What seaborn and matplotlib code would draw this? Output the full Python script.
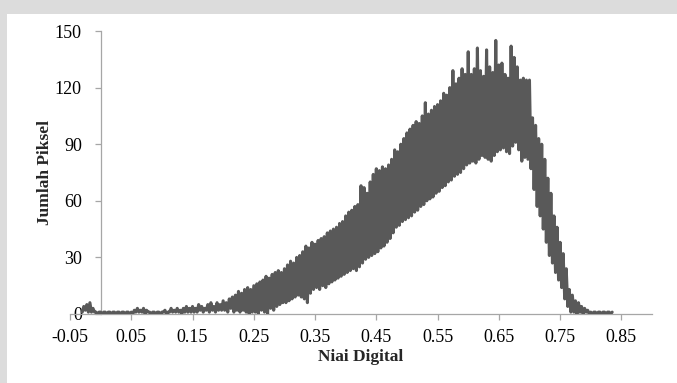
import numpy as np
import pandas as pd
import matplotlib
matplotlib.use("Agg")
import matplotlib.pyplot as plt
from matplotlib.patches import Rectangle
import seaborn as sns

# Histogram of pixel counts per digital value (step 0.0025, starting at -0.03)
x_start = -0.03
x_step = 0.0025
jumlah_piksel = [
    1, 4, 2, 5, 1, 6, 1, 3, 1, 1, 0, 1,
    1, 0, 1, 1, 0, 1, 1, 0, 1, 1, 0, 1, 1, 0, 1, 1, 0, 1, 1, 0,
    1, 0, 2, 1, 3, 1, 2, 1, 3, 0, 2, 1, 1, 0, 1, 1, 0, 1, 1, 0,
    1, 1, 2, 0, 1, 1, 3, 1, 2, 1, 3, 1, 2, 0, 3, 1, 4, 1, 3, 1,
    4, 1, 3, 1, 5, 2, 4, 1, 3, 2, 5, 1, 6, 2, 4, 1, 6, 2, 5, 2,
    7, 2, 6, 1, 8, 3, 9, 1, 10, 2, 12, 1, 11, 2, 13, 1, 14, 0, 13, 1,
    15, 1, 16, 0, 17, 2, 18, 1, 20, 0, 19, 3, 21, 2, 22, 4, 23, 5, 22, 6,
    24, 6, 26, 7, 28, 8, 27, 9, 30, 10, 31, 9, 33, 8, 36, 6, 35, 11, 38, 13,
    37, 14, 39, 13, 40, 15, 41, 14, 43, 16, 44, 17, 45, 18, 46, 19, 48, 20, 49, 21,
    52, 22, 54, 23, 55, 24, 57, 23, 58, 25, 68, 27, 67, 29, 64, 30, 70, 31, 74, 32,
    77, 33, 76, 35, 78, 36, 77, 38, 79, 40, 82, 43, 87, 46, 86, 47, 90, 49, 93, 50,
    96, 51, 98, 52, 100, 54, 102, 55, 101, 57, 105, 58, 112, 60, 106, 61, 108, 62, 110, 64,
    111, 65, 113, 67, 117, 68, 116, 70, 120, 71, 129, 73, 122, 74, 125, 75, 130, 77, 127, 79,
    139, 80, 127, 81, 130, 80, 141, 82, 129, 84, 126, 83, 140, 82, 131, 81, 128, 84, 145, 86,
    132, 87, 133, 88, 127, 86, 125, 85, 142, 89, 136, 91, 131, 87, 124, 81, 125, 83, 124, 82,
    124, 77, 104, 66, 100, 57, 93, 52, 90, 45, 82, 38, 72, 31, 64, 27, 52, 22, 46, 18,
    38, 14, 32, 8, 24, 4, 13, 1, 10, 1, 7, 0, 6, 1, 4, 0, 3, 1, 2, 0,
    1, 0, 1, 1, 0, 1, 1, 0, 1, 1, 0, 1, 1, 0, 1,
]
niai_digital = np.round(x_start + x_step * np.arange(len(jumlah_piksel)), 4)

x_ticks = [-0.05, 0.05, 0.15, 0.25, 0.35, 0.45, 0.55, 0.65, 0.75, 0.85]
y_ticks = [0, 30, 60, 90, 120, 150]

df = pd.DataFrame({"Niai Digital": niai_digital, "Jumlah Piksel": jumlah_piksel})

sns.set_style("white")
plt.rcParams["font.family"] = ["Liberation Serif", "DejaVu Serif"]
plt.rcParams["axes.unicode_minus"] = False

fig = plt.figure(figsize=(6.77, 3.83), dpi=100)
fig.patch.set_facecolor("white")
# grey frame strips at the top and left edge
fig.patches.append(Rectangle((0, 1 - 14 / 383), 1, 14 / 383, transform=fig.transFigure,
                             facecolor="#dcdcdc", edgecolor="none", zorder=0))
fig.patches.append(Rectangle((0, 0), 7 / 677, 1, transform=fig.transFigure,
                             facecolor="#dcdcdc", edgecolor="none", zorder=0))

ax = fig.add_axes([70 / 677, 1 - 314 / 383, 582 / 677, 283 / 383])
ax.set_facecolor("none")

sns.lineplot(data=df, x="Niai Digital", y="Jumlah Piksel", color="#595959",
             linewidth=2.2, sort=False, estimator=None, ax=ax, zorder=3)

ax.set_xlim(-0.05, 0.90)
ax.set_ylim(0, 150)
ax.set_xticks(x_ticks)
ax.set_xticklabels([f"{v:.2f}" for v in x_ticks])
ax.set_yticks(y_ticks)
ax.set_yticklabels([str(v) for v in y_ticks])

for side in ("top", "right"):
    ax.spines[side].set_visible(False)
ax.spines["left"].set_position(("data", 0))
for side in ("left", "bottom"):
    ax.spines[side].set_color("#a6a6a6")
    ax.spines[side].set_linewidth(0.9)

ax.tick_params(axis="both", which="both", direction="out", length=4, width=0.9,
               color="#a6a6a6", labelsize=13, labelcolor="black")
ax.tick_params(axis="y", left=True, pad=9.5)
ax.tick_params(axis="x", bottom=True, pad=7)

ax.set_xlabel("Niai Digital", fontsize=12.5, fontweight="bold")
ax.set_ylabel("Jumlah Piksel", fontsize=12.5, fontweight="bold")
ax.xaxis.set_label_coords(0.5, -0.125)
ax.yaxis.set_label_coords(-0.03, 0.5)

fig.savefig("out.png", dpi=100)
